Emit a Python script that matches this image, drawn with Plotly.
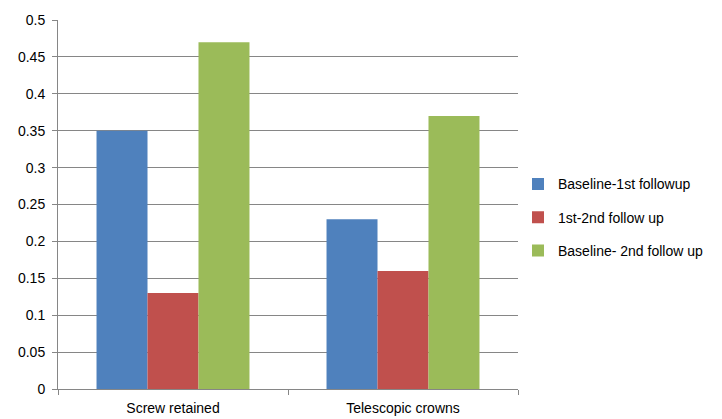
import plotly.graph_objects as go

categories = ["Screw retained", "Telescopic crowns"]
series_names = ["Baseline-1st followup", "1st-2nd follow up", "Baseline- 2nd follow up"]
baseline_1st = [0.35, 0.23]
first_second = [0.13, 0.16]
baseline_2nd = [0.47, 0.37]
colors = ["#4F81BD", "#C0504D", "#9BBB59"]

fig = go.Figure()
for name, vals, col in zip(series_names, [baseline_1st, first_second, baseline_2nd], colors):
    fig.add_trace(go.Bar(x=categories, y=vals, name=name, marker_color=col,
                         marker_line_width=0, legendgroup=name))

font = dict(family="Liberation Sans, Arial, sans-serif", size=14, color="#000000")
fig.update_layout(
    width=722, height=419,
    margin=dict(l=58, r=204, t=20, b=30),
    paper_bgcolor="white", plot_bgcolor="white",
    barmode="group", bargap=0.335, bargroupgap=0,
    font=font,
    showlegend=True,
    legend=dict(x=1.0, xanchor="left", y=0.465, yanchor="middle",
                traceorder="grouped", tracegroupgap=12, itemwidth=30,
                font=font, bgcolor="rgba(0,0,0,0)"),
    xaxis=dict(showline=True, linecolor="#868686", linewidth=1,
               ticks="outside", tickson="boundaries", ticklen=5, tickcolor="#868686",
               showgrid=False, tickfont=font, automargin=False, ticklabelstandoff=6),
    yaxis=dict(range=[0, 0.5], dtick=0.05, showline=True, linecolor="#868686", linewidth=1,
               ticks="outside", ticklen=5, tickcolor="#868686",
               showgrid=True, gridcolor="#868686", gridwidth=1,
               zeroline=False, tickfont=font, automargin=False, ticklabelstandoff=4),
)

fig.write_html("out.html")
